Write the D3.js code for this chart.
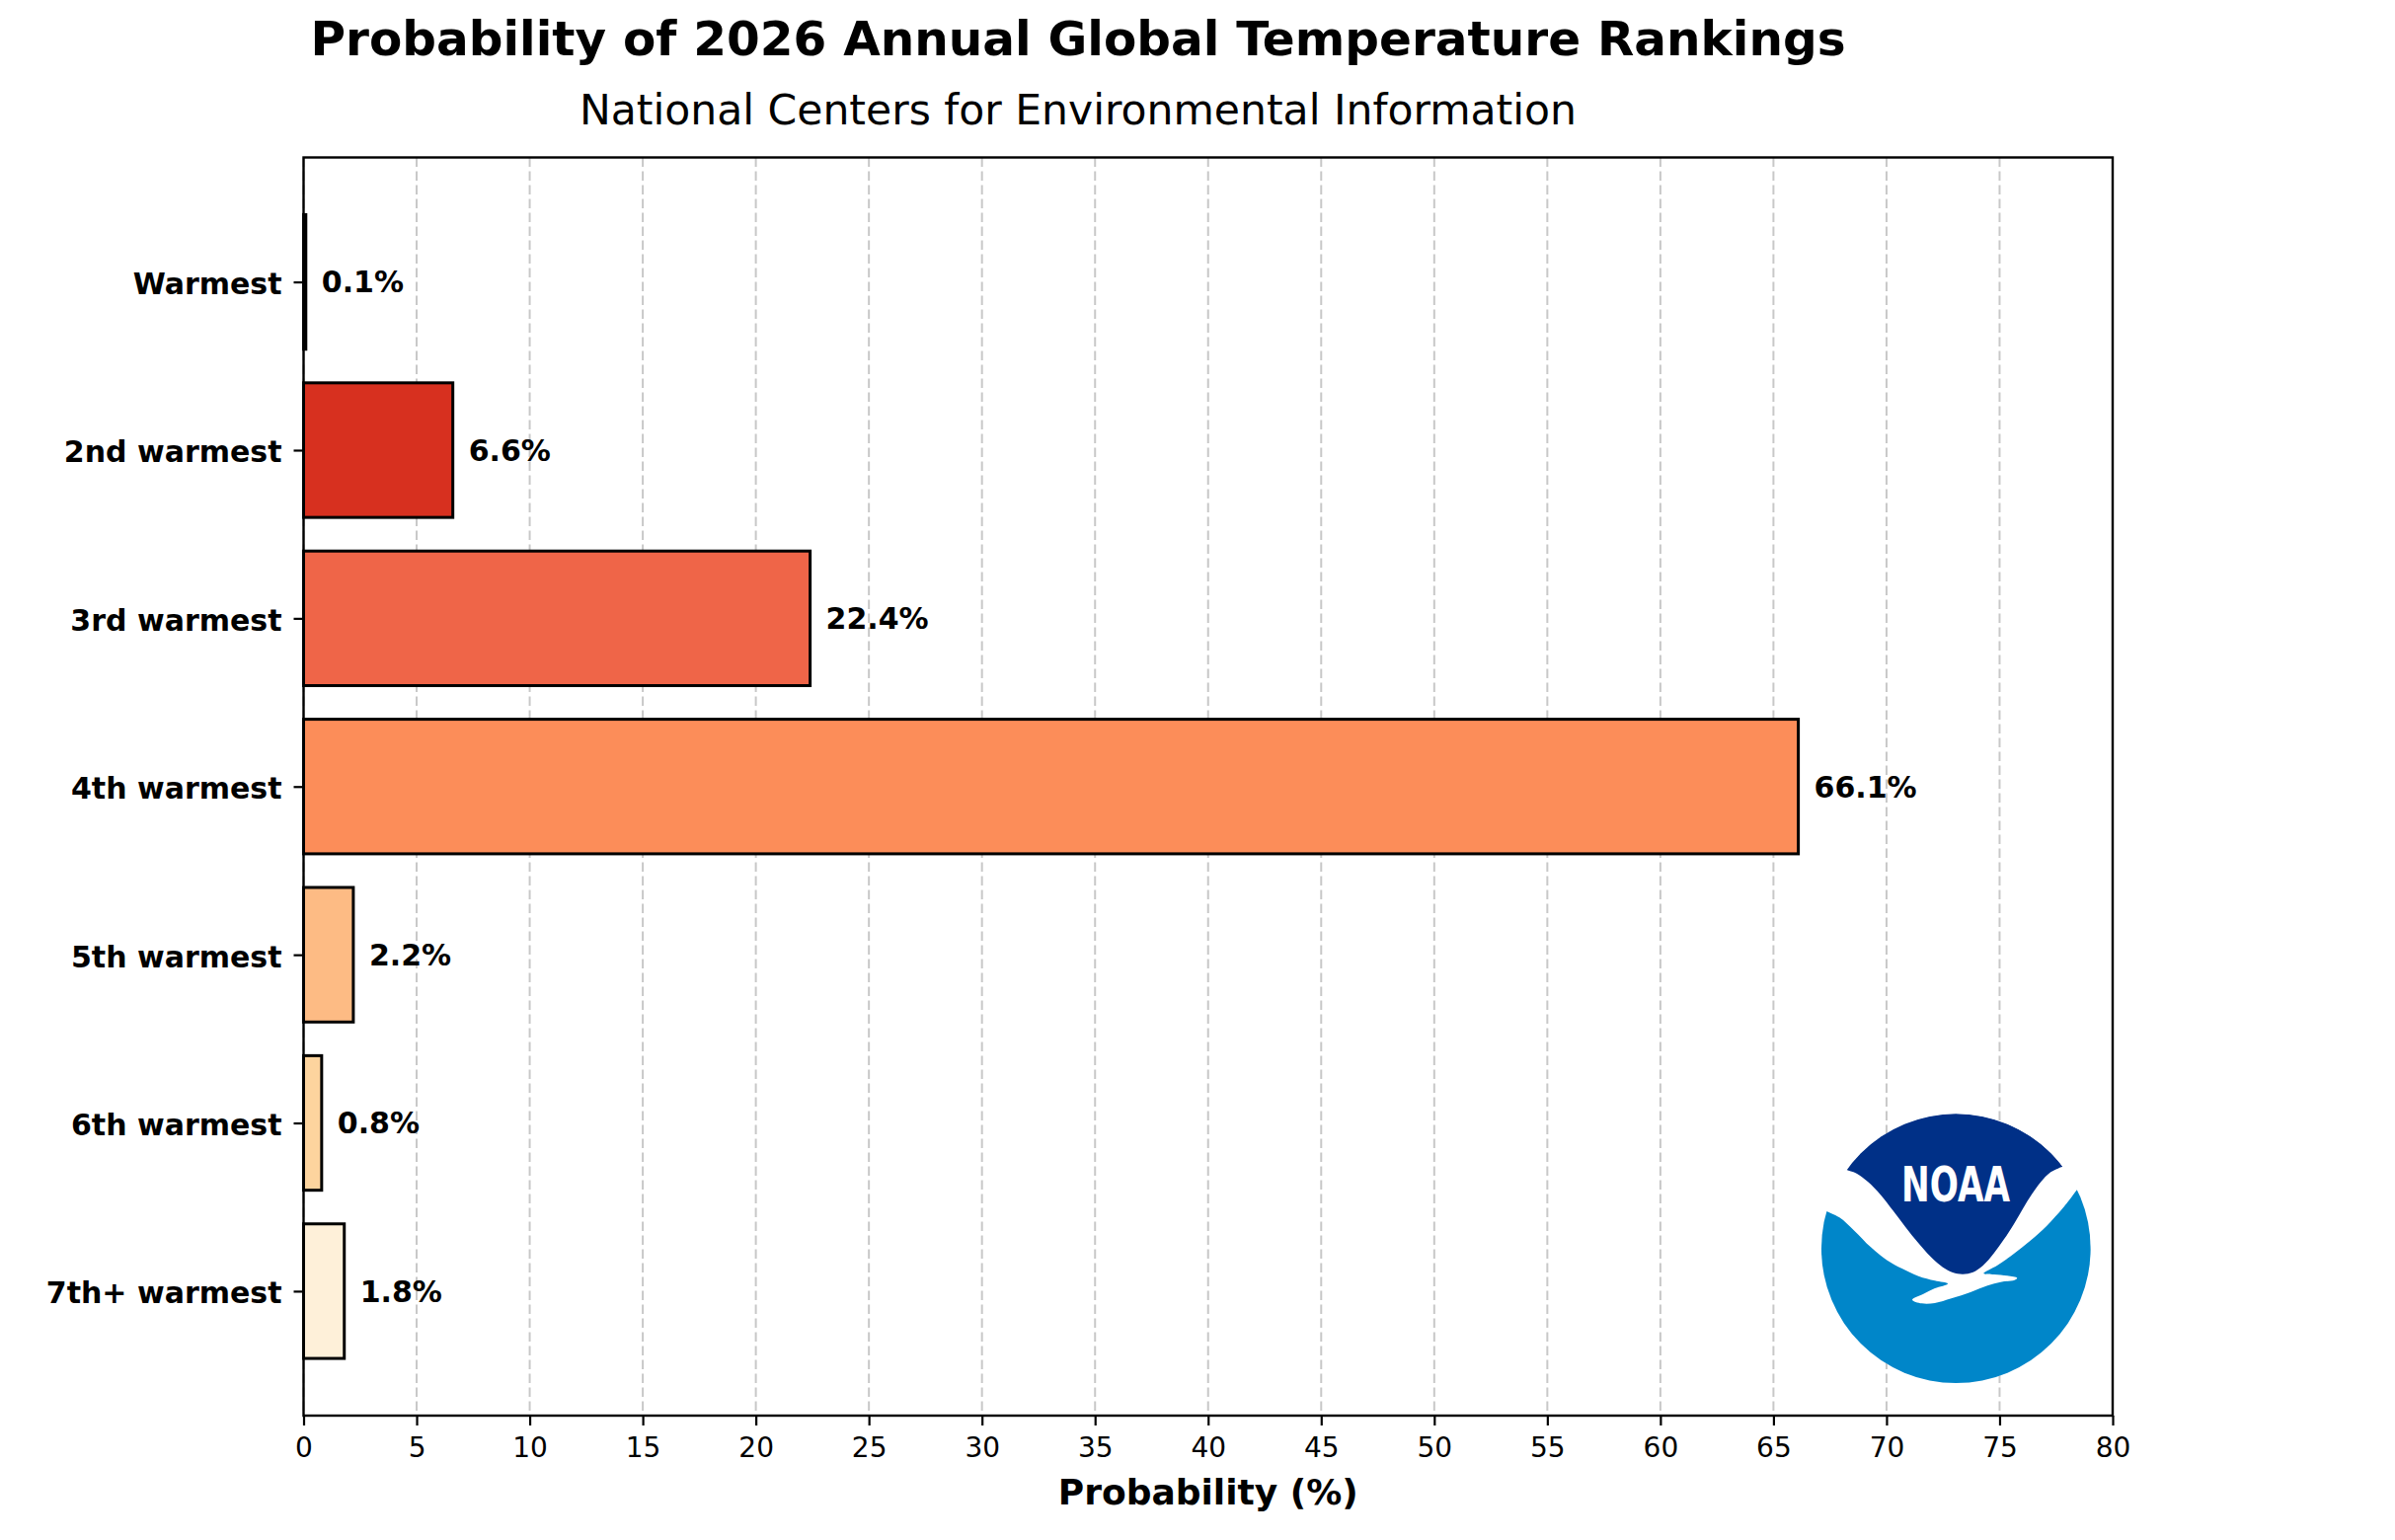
<!DOCTYPE html>
<html><head><meta charset="utf-8">
<script src="https://cdn.jsdelivr.net/npm/d3@7"></script>
<style>
body{margin:0;background:#fff}
svg{display:block}
text{font-family:"DejaVu Sans",sans-serif}
</style>
</head><body>
<script>
// ---- data ----
const categories = ["Warmest","2nd warmest","3rd warmest","4th warmest","5th warmest","6th warmest","7th+ warmest"];
const probabilities = [0.1, 6.6, 22.4, 66.1, 2.2, 0.8, 1.8];
const barColors = d3.schemeOrRd[7].slice().reverse();
const xTicks = d3.range(0, 81, 5);
const titleText = "Probability of 2026 Annual Global Temperature Rankings";
const subtitleText = "National Centers for Environmental Information";
const xLabelText = "Probability (%)";

// ---- layout ----
const W = 2426, H = 1560;
const plot = {left: 307.5, right: 2140, top: 159.5, bottom: 1434};

const svg = d3.select("body").append("svg").attr("width", W).attr("height", H);

const x = d3.scaleLinear().domain([0, 80]).range([plot.left, plot.right]);
const y = d3.scaleLinear().domain([-0.74, categories.length - 1 + 0.74]).range([plot.top, plot.bottom]);
const barH = y(0.4) - y(-0.4);

// grid
svg.append("g").selectAll("line").data(xTicks).join("line")
  .attr("x1", d => x(d)).attr("x2", d => x(d))
  .attr("y1", plot.top).attr("y2", plot.bottom)
  .attr("stroke", "#c8c8c8").attr("stroke-width", 2)
  .attr("stroke-dasharray", "9.5,4.5");

// bars
svg.append("g").selectAll("rect").data(probabilities).join("rect")
  .attr("x", x(0))
  .attr("y", (d, i) => y(i) - barH / 2)
  .attr("width", d => x(d) - x(0))
  .attr("height", barH)
  .attr("fill", (d, i) => barColors[i])
  .attr("stroke", "#000").attr("stroke-width", 3);

// value labels
svg.append("g").selectAll("text").data(probabilities).join("text")
  .attr("x", d => x(d) + 16)
  .attr("y", (d, i) => y(i))
  .attr("dy", "0.36em")
  .attr("font-size", 30).attr("font-weight", "bold")
  .text(d => d.toFixed(1) + "%");

// NOAA logo (decoration), drawn in local units
const logoG = svg.append("g")
  .attr("transform", `translate(${plot.right - 158.7 - 484/3},${plot.bottom - 169.3 - 494/3}) scale(${1/3})`);
const defs = svg.append("defs");
defs.append("clipPath").attr("id", "logoClip")
  .append("circle").attr("cx", 484).attr("cy", 494).attr("r", 409);
const lg = logoG.append("g").attr("clip-path", "url(#logoClip)");
lg.append("circle").attr("cx", 484).attr("cy", 494).attr("r", 410).attr("fill", "#fff");
const curve = d3.line().curve(d3.curveCatmullRom.alpha(0.5));
const waveEdge = [[88,380],[130,400],[175,440],[225,490],[275,530],[320,555],[370,578],[420,592],[459,601],
  [420,615],[385,632],[351,650],[380,661],[420,660],[470,646],[530,626],[580,607],[620,596],[662,590],[670,584],
  [640,577],[600,573],[568,570],[610,545],[660,510],[710,470],[760,425],[810,370],[852,315]];
lg.append("path")
  .attr("d", curve(waveEdge) + "L1000,315L1000,1000L-100,1000L-100,380Z")
  .attr("fill", "#0086C9");
const navyEdge = [[808,245],[772,262],[742,292],[714,330],[688,372],[660,420],[630,466],[598,510],[566,546],
  [536,566],[505,572],[474,567],[444,551],[410,522],[370,478],[330,428],[292,378],[256,332],[216,291],[182,266],[150,255]];
lg.append("path")
  .attr("d", "M150,255A409,409 0 0,1 808,245" + curve(navyEdge).replace(/^M[^C]*/, "") + "Z")
  .attr("fill", "#003087");
lg.append("text")
  .attr("x", 483).attr("y", 352).attr("text-anchor", "middle")
  .attr("font-size", 150).attr("font-weight", "bold").attr("fill", "#fff")
  .attr("textLength", 330).attr("lengthAdjust", "spacingAndGlyphs")
  .text("NOAA");

// frame
svg.append("rect")
  .attr("x", plot.left).attr("y", plot.top)
  .attr("width", plot.right - plot.left).attr("height", plot.bottom - plot.top)
  .attr("fill", "none").attr("stroke", "#000").attr("stroke-width", 2.4);

// x axis
const xAxis = svg.append("g").attr("transform", `translate(0,${plot.bottom})`)
  .call(d3.axisBottom(x).tickValues(xTicks).tickSize(10).tickPadding(12).tickFormat(d3.format("d")));
xAxis.select(".domain").remove();
xAxis.selectAll(".tick line").attr("stroke", "#000").attr("stroke-width", 2.2);
xAxis.selectAll(".tick text").attr("font-size", 28).attr("font-family", "DejaVu Sans").attr("fill", "#000");

// y axis
const yAxis = svg.append("g").attr("transform", `translate(${plot.left},0)`)
  .call(d3.axisLeft(y).tickValues(d3.range(categories.length)).tickSize(10).tickPadding(12)
    .tickFormat(i => categories[i]));
yAxis.select(".domain").remove();
yAxis.selectAll(".tick line").attr("stroke", "#000").attr("stroke-width", 2.2);
yAxis.selectAll(".tick text").attr("font-size", 30).attr("font-weight", "bold")
  .attr("font-family", "DejaVu Sans").attr("fill", "#000").attr("dy", "0.4em");

// titles
svg.append("text").attr("x", 1092).attr("y", 56).attr("text-anchor", "middle")
  .attr("font-size", 48.5).attr("font-weight", "bold").text(titleText);
svg.append("text").attr("x", 1092).attr("y", 126).attr("text-anchor", "middle")
  .attr("font-size", 42.5).text(subtitleText);
svg.append("text").attr("x", (plot.left + plot.right) / 2).attr("y", 1524).attr("text-anchor", "middle")
  .attr("font-size", 36).attr("font-weight", "bold").text(xLabelText);
</script>
</body></html>
